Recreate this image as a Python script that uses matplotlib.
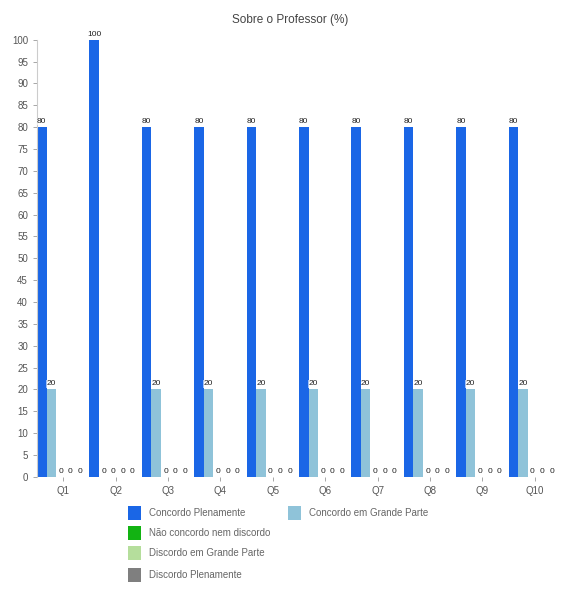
import numpy as np
import matplotlib.pyplot as plt
from matplotlib.patches import Rectangle

plt.rcParams['font.family'] = ['Liberation Sans', 'DejaVu Sans']

# dados do grafico
questions = ['Q1', 'Q2', 'Q3', 'Q4', 'Q5', 'Q6', 'Q7', 'Q8', 'Q9', 'Q10']
series = ['Concordo Plenamente', 'Concordo em Grande Parte',
          'Não concordo nem discordo', 'Discordo em Grande Parte',
          'Discordo Plenamente']
concordo_plen = [80, 100, 80, 80, 80, 80, 80, 80, 80, 80]
concordo_gp = [20, 0, 20, 20, 20, 20, 20, 20, 20, 20]
nao_conc = [0, 0, 0, 0, 0, 0, 0, 0, 0, 0]
discordo_gp = [0, 0, 0, 0, 0, 0, 0, 0, 0, 0]
discordo_plen = [0, 0, 0, 0, 0, 0, 0, 0, 0, 0]
colors = ['#1a66e6', '#8fc3d9', '#12b312', '#b5de9c', '#7f7f7f']

values = [concordo_plen, concordo_gp, nao_conc, discordo_gp, discordo_plen]

fig = plt.figure(figsize=(5.61, 5.93), dpi=100)
ax = fig.add_axes([0.066, 0.196, 0.934, 0.737])

w = 0.182
x = np.arange(len(questions))
for k, vals in enumerate(values):
    pos = x + k * w
    ax.bar(pos, vals, width=w, align='edge', color=colors[k], linewidth=0)
    for p, v in zip(pos, vals):
        ax.text(p + w / 2, v + 1.3, str(v), ha='center', va='center',
                fontsize=6, color='#222222',
                bbox=dict(boxstyle='square,pad=0.05', fc='white', ec='none', alpha=0.6))

ax.set_xlim(0, len(questions))
ax.set_ylim(0, 100)
ax.set_yticks(np.arange(0, 101, 5))
ax.set_xticks(x + 0.5)
ax.set_xticklabels(questions)
ax.tick_params(axis='both', labelsize=7, colors='#999999', labelcolor='#555555',
               length=3, width=0.6)
for s in ['top', 'right', 'bottom']:
    ax.spines[s].set_visible(False)
ax.spines['left'].set_color('#cccccc')
ax.spines['left'].set_linewidth(0.8)

fig.text(0.517, 0.967, 'Sobre o Professor (%)', ha='center', va='center',
         fontsize=8.5, color='#444444')

# legenda desenhada a mao
W, H = 561, 593
leg_pos = [(128, 513), (288, 513), (128, 533), (128, 553), (128, 575)]
for (lx, ly), name, c in zip(leg_pos, series, colors):
    fig.patches.append(Rectangle(((lx) / W, 1 - (ly + 7) / H), 13 / W, 14 / H,
                                 transform=fig.transFigure, color=c, linewidth=0))
    fig.text((lx + 21) / W, 1 - ly / H, name, ha='left', va='center',
             fontsize=7, color='#666666')

fig.savefig('out.png', dpi=100)
